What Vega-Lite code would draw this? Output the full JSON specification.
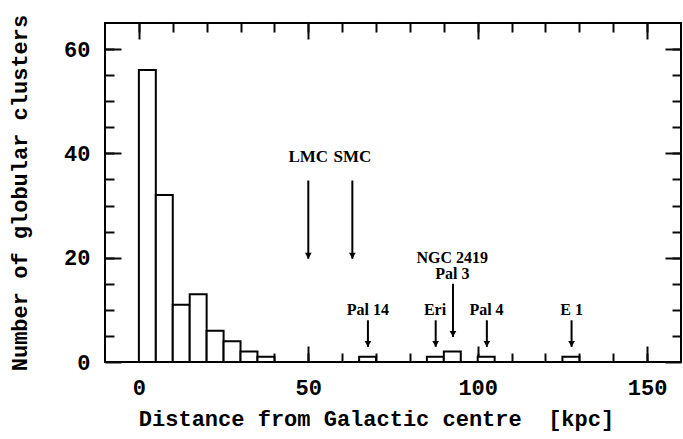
{
  "$schema": "https://vega.github.io/schema/vega-lite/v6.json",
  "autosize": {"type": "none"},
  "padding": {"left": 105, "top": 23, "right": 2, "bottom": 77},
  "width": 576,
  "height": 339,
  "background": "white",
  "config": {
    "view": {"stroke": "black", "strokeWidth": 2},
    "axis": {
      "grid": false,
      "labelColor": "black", "titleColor": "black",
      "labelFont": "Liberation Mono", "titleFont": "Liberation Mono",
      "labelFontWeight": "bold", "titleFontWeight": "bold", "labelFontSize": 22, "titleFontSize": 22
    }
  },
  "datasets": {
    "bins": [
      {"lo": 0, "hi": 5, "n": 56}, {"lo": 5, "hi": 10, "n": 32},
      {"lo": 10, "hi": 15, "n": 11}, {"lo": 15, "hi": 20, "n": 13},
      {"lo": 20, "hi": 25, "n": 6}, {"lo": 25, "hi": 30, "n": 4},
      {"lo": 30, "hi": 35, "n": 2}, {"lo": 35, "hi": 40, "n": 1},
      {"lo": 65, "hi": 70, "n": 1}, {"lo": 85, "hi": 90, "n": 1},
      {"lo": 90, "hi": 95, "n": 2}, {"lo": 100, "hi": 105, "n": 1},
      {"lo": 125, "hi": 130, "n": 1}
    ],
    "arrows": [
      {"name": "LMC", "x": 50, "top": 34.8, "tip": 19.8},
      {"name": "SMC", "x": 63, "top": 34.8, "tip": 19.8},
      {"name": "Pal 14", "x": 67.6, "top": 8.0, "tip": 2.9},
      {"name": "Eri", "x": 87.6, "top": 8.0, "tip": 2.9},
      {"name": "NGC 2419 / Pal 3", "x": 92.7, "top": 15.0, "tip": 4.8},
      {"name": "Pal 4", "x": 102.7, "top": 8.0, "tip": 2.9},
      {"name": "E 1", "x": 127.7, "top": 8.0, "tip": 2.9}
    ],
    "biglabels": [
      {"label": "LMC", "x": 50, "y": 38.4},
      {"label": "SMC", "x": 63, "y": 38.4}
    ],
    "smalllabels": [
      {"label": "Pal 14", "x": 67.6, "y": 9.0},
      {"label": "Eri", "x": 87.4, "y": 9.0},
      {"label": "NGC 2419", "x": 92.5, "y": 19.0},
      {"label": "Pal 3", "x": 92.5, "y": 16.0},
      {"label": "Pal 4", "x": 102.6, "y": 9.0},
      {"label": "E 1", "x": 127.7, "y": 9.0}
    ]
  },
  "resolve": {"axis": {"x": "independent", "y": "independent"}},
  "layer": [
    {
      "data": {"name": "bins"},
      "mark": {"type": "bar", "fill": "white", "stroke": "black", "strokeWidth": 2},
      "encoding": {
        "x": {"field": "lo", "type": "quantitative",
          "scale": {"domain": [-10, 160], "nice": false, "zero": false},
          "axis": {"orient": "bottom", "values": [0, 50, 100, 150], "ticks": false, "domain": false, "labelPadding": 15, "labelFlush": false,
            "title": "Distance from Galactic centre \u00a0[kpc]", "titlePadding": 10, "titleX": 271}},
        "x2": {"field": "hi"},
        "y": {"field": "n", "type": "quantitative",
          "scale": {"domain": [0, 65], "nice": false},
          "axis": {"orient": "left", "values": [0, 20, 40, 60], "ticks": false, "domain": false, "labelPadding": 15, "labelFlush": false,
            "title": "Number of globular clusters", "titlePadding": 32}},
        "y2": {"datum": 0}
      }
    },
    {
      "data": {"name": "arrows"},
      "mark": {"type": "rule", "stroke": "black", "strokeWidth": 2},
      "encoding": {
        "x": {"field": "x", "type": "quantitative",
          "scale": {"domain": [-10, 160], "nice": false, "zero": false},
          "axis": {"orient": "bottom", "values": [0, 50, 100, 150], "offset": -16, "ticks": true, "tickSize": 16, "tickColor": "#0a0a0a", "tickWidth": 2, "domain": false, "labels": false, "title": null}},
        "y": {"field": "top", "type": "quantitative",
          "scale": {"domain": [0, 65], "nice": false},
          "axis": {"orient": "left", "values": [0, 20, 40, 60], "offset": -16, "ticks": true, "tickSize": 16, "tickColor": "#0a0a0a", "tickWidth": 2, "domain": false, "labels": false, "title": null}},
        "y2": {"field": "tip"}
      }
    },
    {
      "data": {"name": "arrows"},
      "mark": {"type": "point", "shape": "triangle-down", "filled": true, "color": "black", "opacity": 1, "size": 45, "yOffset": -3},
      "encoding": {
        "x": {"field": "x", "type": "quantitative",
          "scale": {"domain": [-10, 160], "nice": false, "zero": false},
          "axis": {"orient": "bottom", "values": [0, 10, 20, 30, 40, 50, 60, 70, 80, 90, 100, 110, 120, 130, 140, 150], "offset": -9, "ticks": true, "tickSize": 9, "tickColor": "#0a0a0a", "tickWidth": 2, "domain": false, "labels": false, "title": null}},
        "y": {"field": "tip", "type": "quantitative",
          "scale": {"domain": [0, 65], "nice": false},
          "axis": {"orient": "left", "values": [5, 10, 15, 20, 25, 30, 35, 40, 45, 50, 55, 60], "offset": -9, "ticks": true, "tickSize": 9, "tickColor": "#0a0a0a", "tickWidth": 2, "domain": false, "labels": false, "title": null}}
      }
    },
    {
      "data": {"name": "biglabels"},
      "mark": {"type": "text", "font": "Liberation Serif", "fontWeight": "bold", "fontSize": 17, "baseline": "alphabetic", "align": "center", "color": "black"},
      "encoding": {
        "x": {"field": "x", "type": "quantitative",
          "scale": {"domain": [-10, 160], "nice": false, "zero": false},
          "axis": {"orient": "top", "values": [0, 50, 100, 150], "offset": -16, "ticks": true, "tickSize": 16, "tickColor": "#0a0a0a", "tickWidth": 2, "domain": false, "labels": false, "title": null}},
        "y": {"field": "y", "type": "quantitative",
          "scale": {"domain": [0, 65], "nice": false},
          "axis": {"orient": "right", "values": [0, 20, 40, 60], "offset": -16, "ticks": true, "tickSize": 16, "tickColor": "#0a0a0a", "tickWidth": 2, "domain": false, "labels": false, "title": null}},
        "text": {"field": "label"}
      }
    },
    {
      "data": {"name": "smalllabels"},
      "mark": {"type": "text", "font": "Liberation Serif", "fontWeight": "bold", "fontSize": 16, "baseline": "alphabetic", "align": "center", "color": "black"},
      "encoding": {
        "x": {"field": "x", "type": "quantitative",
          "scale": {"domain": [-10, 160], "nice": false, "zero": false},
          "axis": {"orient": "top", "values": [0, 10, 20, 30, 40, 50, 60, 70, 80, 90, 100, 110, 120, 130, 140, 150], "offset": -9, "ticks": true, "tickSize": 9, "tickColor": "#0a0a0a", "tickWidth": 2, "domain": false, "labels": false, "title": null}},
        "y": {"field": "y", "type": "quantitative",
          "scale": {"domain": [0, 65], "nice": false},
          "axis": {"orient": "right", "values": [5, 10, 15, 20, 25, 30, 35, 40, 45, 50, 55, 60], "offset": -9, "ticks": true, "tickSize": 9, "tickColor": "#0a0a0a", "tickWidth": 2, "domain": false, "labels": false, "title": null}},
        "text": {"field": "label"}
      }
    }
  ]
}
